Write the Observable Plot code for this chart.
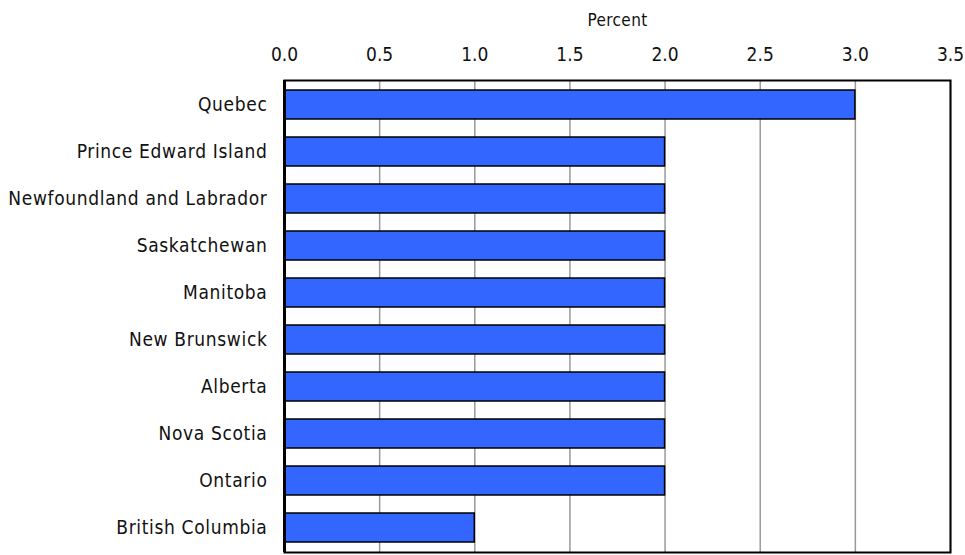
<!DOCTYPE html>
<html>
<head>
<meta charset="utf-8">
<script src="https://cdn.jsdelivr.net/npm/d3@7"></script>
<script src="https://cdn.jsdelivr.net/npm/@observablehq/plot@0.6"></script>
<style>
  html, body { margin: 0; padding: 0; background: #fff; }
  #chart svg { display: block; }
  #chart svg [aria-label="y-axis tick label"] text { letter-spacing: 0.65px; }
  #chart svg [aria-label="text"] text { letter-spacing: 0.4px; }
</style>
</head>
<body>
<div id="chart"></div>
<script>
const provinces = ["Quebec", "Prince Edward Island", "Newfoundland and Labrador", "Saskatchewan", "Manitoba", "New Brunswick", "Alberta", "Nova Scotia", "Ontario", "British Columbia"];
const percents = [3.0, 2.0, 2.0, 2.0, 2.0, 2.0, 2.0, 2.0, 2.0, 1.0];
const xTicks = [0, 0.5, 1.0, 1.5, 2.0, 2.5, 3.0, 3.5];
const xLabel = "Percent";

const data = provinces.map((p, i) => ({province: p, value: percents[i]}));
const font = "'Liberation Sans Narrow', 'Arial Narrow', 'DejaVu Sans Condensed', sans-serif";

const chart = Plot.plot({
  width: 965,
  height: 555,
  marginLeft: 284,
  marginRight: 15,
  marginTop: 80,
  marginBottom: 3,
  style: {fontFamily: font, fontSize: "19px", color: "#111", background: "#fff"},
  x: {domain: [0, 3.5], ticks: xTicks},
  y: {domain: provinces, paddingInner: 0.38, paddingOuter: 0.19},
  marks: [
    Plot.gridX(xTicks, {stroke: "#999", strokeOpacity: 1, strokeWidth: 1.5}),
    Plot.barX(data, {x: "value", y: "province", fill: "#3366FF", stroke: "#000", strokeWidth: 1.5}),
    Plot.frame({stroke: "#000", strokeWidth: 2}),
    Plot.ruleX([0], {stroke: "#000", strokeWidth: 3}),
    Plot.axisX(xTicks, {anchor: "top", tickSize: 0, tickPadding: 20, tickFormat: d3.format(".1f"), label: null, fontSize: 19}),
    Plot.text([xLabel], {frameAnchor: "top", dy: -67, text: (d) => d, fontSize: 17, fill: "#111"}),
    Plot.axisY({tickSize: 0, tickPadding: 17, label: null, fontSize: 19})
  ]
});
document.getElementById("chart").appendChild(chart);
</script>
</body>
</html>
